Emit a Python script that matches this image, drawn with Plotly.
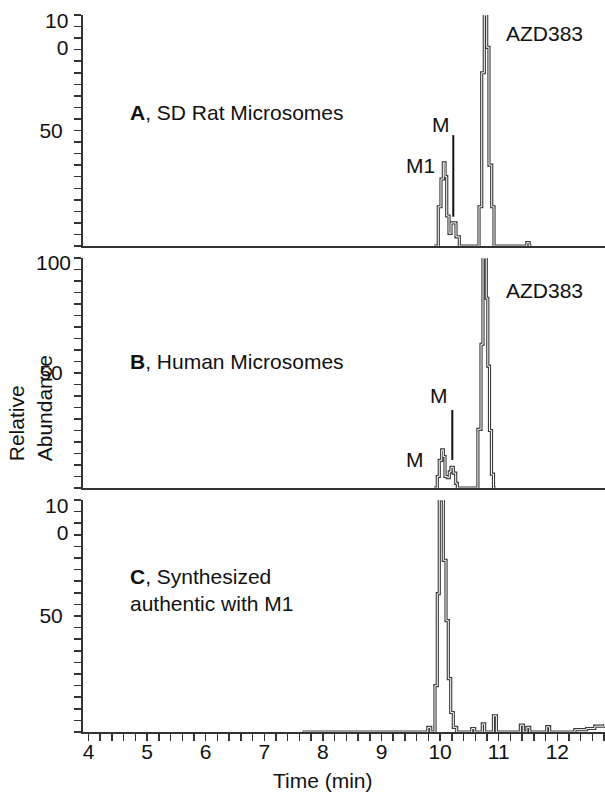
import plotly.graph_objects as go

# ---------------- data ----------------
time_a = [9.90, 9.969, 10.015, 10.055, 10.084, 10.113, 10.152, 10.186, 10.237, 10.271, 10.328,
          10.664, 10.710, 10.754, 10.795, 10.834, 10.881, 10.920, 11.48, 11.52, 11.56]
abund_a = [0, 17, 29, 36, 30, 13, 5.5, 10, 10, 4, 0,
           17, 75, 100, 86, 35, 17, 0, 1.5, 0, 0]

time_b = [9.90, 9.952, 9.986, 10.027, 10.055, 10.084, 10.123, 10.157, 10.186, 10.225, 10.266, 10.294,
          10.645, 10.698, 10.732, 10.788, 10.814, 10.843, 10.877, 10.911, 10.95]
abund_b = [0, 5, 12, 16.6, 13.7, 5, 4.5, 7, 9, 6.5, 2, 0,
           25.5, 62.5, 100, 82.5, 53, 25, 6, 0, 0]

time_c = [7.65, 9.79, 9.84, 9.913, 9.952, 9.986, 10.055, 10.101, 10.140, 10.181, 10.225, 10.283,
          10.54, 10.59, 10.72, 10.76, 10.91, 10.96, 11.37, 11.42, 11.48, 11.53, 11.82, 11.87,
          12.30, 12.50, 12.64, 12.81]
abund_c = [0, 2, 0, 20, 59.6, 100, 74, 48, 23, 8.4, 2, 0,
           1.5, 0, 3.5, 0, 7, 0, 3, 0, 2, 0, 2.3, 0,
           1, 1.5, 2.5, 3.5]

x_tick_vals = [4, 5, 6, 7, 8, 9, 10, 11, 12]
x_tick_text = ["4", "5", "6", "7", "8", "9", "10", "11", "12"]
y_tick_vals = [50]
y_tick_text = ["50"]
top_labels = ["10<br>0", "100", "10<br>0"]

panel_names = ["<b>A</b>, SD Rat Microsomes", "<b>B</b>, Human Microsomes",
               "<b>C</b>, Synthesized<br>authentic with M1"]
panel_name_y = [58, 55, 61]

# peak labels: (panel index, text, time, abundance)
peak_labels = [
    (0, "M1", 9.666, 35),
    (0, "M", 10.020, 52.8),
    (0, "AZD383", 11.790, 92),
    (1, "M", 9.981, 40.4),
    (1, "M", 9.572, 12.5),
    (1, "AZD383", 11.790, 86),
]
# marker lines: (panel index, time, low, high)
marker_lines = [(0, 10.225, 12.7, 48), (1, 10.208, 12.2, 33.9)]

# ---------------- figure ----------------
FONT = "Arial, Liberation Sans, sans-serif"
FS = 21
AX = "#333333"
LINE = "#3a3a3a"
TXT = "#111111"

fig = go.Figure()
series = [(time_a, abund_a), (time_b, abund_b), (time_c, abund_c)]
domains = [[0.6778, 1.0], [0.3403, 0.6611], [0.0, 0.3236]]

for i, (t, a) in enumerate(series):
    xa = "x" if i == 0 else f"x{i+1}"
    ya = "y" if i == 0 else f"y{i+1}"
    fig.add_trace(go.Scatter(x=t, y=a, mode="lines", line=dict(color=LINE, width=3.2, shape="hv"),
                             xaxis=xa, yaxis=ya, showlegend=False, hoverinfo="skip"))
    fig.add_trace(go.Scatter(x=t, y=a, mode="lines", line=dict(color="white", width=1.0, shape="hv"),
                             xaxis=xa, yaxis=ya, showlegend=False, hoverinfo="skip"))

xrange = [3.906, 12.814]
layout = dict(
    width=605, height=793,
    margin=dict(l=83, r=0, t=15, b=61),
    paper_bgcolor="white", plot_bgcolor="white",
    font=dict(family=FONT, size=FS, color=TXT),
    showlegend=False,
)
for i in range(3):
    xk = "xaxis" if i == 0 else f"xaxis{i+1}"
    yk = "yaxis" if i == 0 else f"yaxis{i+1}"
    ya = "y" if i == 0 else f"y{i+1}"
    xa = "x" if i == 0 else f"x{i+1}"
    xdict = dict(range=xrange, showline=True, linecolor=AX, linewidth=2, showgrid=False,
                 zeroline=False, anchor=ya, domain=[0, 1], automargin=False)
    if i > 0:
        xdict["matches"] = "x"
    if i == 2:
        xdict.update(tickmode="array", tickvals=x_tick_vals, ticktext=x_tick_text,
                     ticks="outside", ticklen=7, tickwidth=1.5, tickcolor=AX,
                     ticklabelstandoff=-7,
                     tickfont=dict(family=FONT, size=FS, color=TXT),
                     minor=dict(dtick=0.2, tick0=4, ticks="outside", ticklen=7,
                                tickwidth=1.5, tickcolor=AX))
    else:
        xdict.update(ticks="", showticklabels=False)
    layout[xk] = xdict
    layout[yk] = dict(range=[0, 100], domain=domains[i], anchor=xa, showline=True,
                      linecolor=AX, linewidth=2, showgrid=False, zeroline=False,
                      automargin=False,
                      tickmode="array", tickvals=y_tick_vals, ticktext=y_tick_text,
                      ticks="outside", ticklen=7, tickwidth=1.5, tickcolor=AX,
                      ticklabelstandoff=7,
                      tickfont=dict(family=FONT, size=FS, color=TXT),
                      minor=dict(dtick=5, tick0=0, ticks="outside", ticklen=7,
                                 tickwidth=1.5, tickcolor=AX))

fig.update_layout(**layout)

annotations = []
shapes = []
for i in range(3):
    xa = "x" if i == 0 else f"x{i+1}"
    ya = "y" if i == 0 else f"y{i+1}"
    # top tick label (100)
    annotations.append(dict(text=top_labels[i], xref=f"{xa} domain", yref=f"{ya} domain",
                            x=0, y=1, xanchor="right", yanchor="middle",
                            xshift=-13 if i != 1 else -10, yshift=-19 if i != 1 else -5,
                            showarrow=False, align="right",
                            font=dict(family=FONT, size=FS, color=TXT)))
    # panel caption
    annotations.append(dict(text=panel_names[i], xref=xa, yref=ya, x=4.679, y=panel_name_y[i],
                            xanchor="left", yanchor="middle", showarrow=False, align="left",
                            font=dict(family=FONT, size=FS, color=TXT)))

for p, txt, t, a in peak_labels:
    xa = "x" if p == 0 else f"x{p+1}"
    ya = "y" if p == 0 else f"y{p+1}"
    annotations.append(dict(text=txt, xref=xa, yref=ya, x=t, y=a, xanchor="center",
                            yanchor="middle", showarrow=False,
                            font=dict(family=FONT, size=FS, color=TXT)))

for p, t, lo, hi in marker_lines:
    xa = "x" if p == 0 else f"x{p+1}"
    ya = "y" if p == 0 else f"y{p+1}"
    shapes.append(dict(type="line", xref=xa, yref=ya, x0=t, x1=t, y0=lo, y1=hi,
                       line=dict(color=TXT, width=2)))

# axis titles
annotations.append(dict(text="Relative<br>Abundance", xref="paper", yref="paper",
                        x=-0.1, y=0.4512, xanchor="center", yanchor="middle", textangle=-90,
                        align="left", showarrow=False,
                        font=dict(family=FONT, size=FS, color=TXT)))
annotations.append(dict(text="Time (min)", xref="x3", yref="paper", x=8.0, y=-0.067,
                        xanchor="center", yanchor="middle", showarrow=False,
                        font=dict(family=FONT, size=FS, color=TXT)))

fig.update_layout(annotations=annotations, shapes=shapes)
fig.write_html("out.html",
               config={"displayModeBar": False, "staticPlot": True},
               post_script="document.body.style.margin='0';document.body.style.padding='0';")
